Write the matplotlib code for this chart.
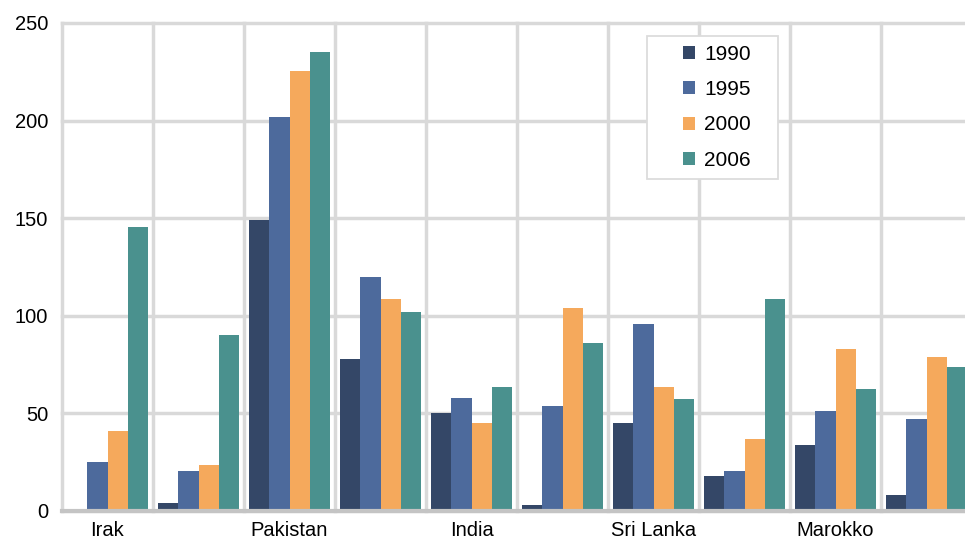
import numpy as np
import matplotlib.pyplot as plt
from matplotlib.ticker import FixedLocator
from matplotlib.patches import Rectangle

plt.rcParams['font.family'] = ['Liberation Sans', 'DejaVu Sans']

# Daten
laender = ["Irak", "", "Pakistan", "", "India", "", "Sri Lanka", "", "Marokko", ""]
jahre = ["1990", "1995", "2000", "2006"]
w1990 = [0, 4, 149, 78, 50, 3, 45, 18, 34, 8]
w1995 = [25, 20.5, 202, 120, 58, 54, 96, 20.5, 51, 47]
w2000 = [41, 23.5, 225.5, 108.5, 45, 104, 63.5, 37, 83, 79]
w2006 = [145.5, 90, 235, 102, 63.5, 86, 57.5, 108.5, 62.5, 74]
farben = ["#344767", "#4d6a9c", "#f5a95c", "#4a918e"]

fig = plt.figure(figsize=(9.65, 5.45), dpi=100)
ax = fig.add_axes([62/965, 34/545, 910/965, 488/545])

x = np.arange(len(laender))
bw = 0.225
for i, (werte, farbe) in enumerate(zip([w1990, w1995, w2000, w2006], farben)):
    ax.bar(x + (i - 1.5) * bw, werte, width=bw, color=farbe, label=jahre[i], zorder=3)

ax.set_xlim(-0.5, len(laender) - 0.5)
ax.set_ylim(0, 250)
ax.set_yticks(np.arange(0, 251, 50))
ax.set_xticks(x)
ax.set_xticklabels(laender)
ax.xaxis.set_minor_locator(FixedLocator(np.arange(-0.5, len(laender), 1)))

for s in ax.spines.values():
    s.set_visible(False)
ax.grid(axis='y', color='#d9d9d9', linewidth=2.5, zorder=0)
ax.grid(axis='x', which='minor', color='#d9d9d9', linewidth=2.5, zorder=0)
ax.grid(axis='x', which='major', visible=False)
for t in ax.yaxis.get_major_ticks() + ax.xaxis.get_minor_ticks():
    t.gridline.set_clip_on(False)
ax.axhline(0, color='#c4c4c4', linewidth=3, zorder=4, clip_on=False)

ax.tick_params(axis='both', which='both', length=0, labelsize=14.5)
ax.tick_params(axis='y', pad=10)
ax.tick_params(axis='x', pad=7)

# Legende mit eigenem Rahmen
leg = ax.legend(loc='upper left', bbox_to_anchor=(683/965, 1 - 45/545),
                bbox_transform=fig.transFigure, fontsize=15, frameon=False,
                handlelength=0.58, handleheight=0.58, labelspacing=0.78,
                handletextpad=0.45, borderpad=0, borderaxespad=0)
leg.set_zorder(6)
rahmen = Rectangle((647/965, 1 - 179/545), 131/965, 143/545,
                   transform=fig.transFigure, facecolor='white',
                   edgecolor='#dcdcdc', linewidth=1.3, zorder=5, clip_on=False)
ax.add_patch(rahmen)

fig.savefig('out.png', dpi=100)
